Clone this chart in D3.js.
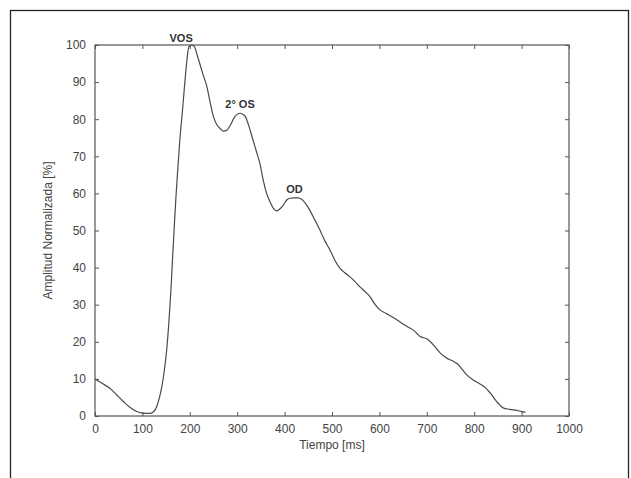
<!DOCTYPE html>
<html><head><meta charset="utf-8">
<script src="https://cdn.jsdelivr.net/npm/d3@7"></script>
<style>body{margin:0;background:#fff}svg{display:block}text{font-family:"Liberation Sans",Arial,sans-serif}</style>
</head><body>
<script>
const timeMs = [0,15,32,45,60,75,88,100,116,124,130,136,141,146,151,156,160,163,167,171,174,179,185,190,194,198,205,210,215,221,228,236,243,250,257,264,271,278,286,294,300,306,312,318,325,332,340,348,355,362,370,377,383,390,398,405,411,420,428,436,444,453,464,475,485,496,506,517,527,538,548,559,570,580,590,601,615,630,645,660,675,686,700,715,728,742,755,765,775,785,798,810,822,835,848,861,875,890,900,908];
const amplitude = [10,8.8,7.4,5.8,3.9,2.2,1.2,0.8,0.7,1.2,2.5,5,7.9,12,17.5,25.5,33.5,41,50.5,59.5,65.4,74.4,83,90.6,96,99.5,100,99.5,97.5,95,92,88.8,84.5,80.7,78.5,77.5,76.8,77,78.5,80.5,81.3,81.6,81.3,80.5,78,75,71.5,68,63.5,60,57.5,55.8,55.3,55.8,57,58.3,58.7,58.8,58.8,58.4,57.3,55.5,52.8,50,47.2,44.7,42,39.8,38.6,37.5,36.3,34.8,33.5,32.2,30.2,28.6,27.6,26.5,25.2,24,22.8,21.4,20.8,19,17,15.6,14.8,14,12.5,11,9.7,8.8,7.8,6,3.8,2.2,1.8,1.5,1.2,1];
const xTicks = [0,100,200,300,400,500,600,700,800,900,1000];
const yTicks = [0,10,20,30,40,50,60,70,80,90,100];
const annotations = [{label:"VOS", t:207, a:100}, {label:"2° OS", t:306, a:81.6}, {label:"OD", t:425, a:58.8}];
const xLabel = "Tiempo [ms]";
const yLabel = "Amplitud Normalizada [%]";

const W = 631, H = 478;
const m = {left:95, right:62, top:45, bottom:62};
const svg = d3.select("body").append("svg").attr("width", W).attr("height", H);
svg.append("rect").attr("x",10.5).attr("y",10.5).attr("width",618).attr("height",480)
  .attr("fill","none").attr("stroke","#222").attr("stroke-width",1.3);

const x = d3.scaleLinear().domain([0,1000]).range([m.left, W - m.right]);
const y = d3.scaleLinear().domain([0,100]).range([H - m.bottom, m.top]);
const axisColor = "#555";
const tickStyle = g => { g.select(".domain").remove(); g.selectAll("line").attr("stroke", axisColor);
  g.selectAll("text").attr("fill","#444").attr("font-size","12px"); };

svg.append("g").attr("transform",`translate(0,${y(0)})`)
  .call(d3.axisBottom(x).tickValues(xTicks).tickFormat(d3.format("d")).tickSizeInner(-4).tickSizeOuter(0).tickPadding(8))
  .call(tickStyle);
svg.append("g").attr("transform",`translate(0,${y(100)})`)
  .call(d3.axisTop(x).tickValues(xTicks).tickFormat("").tickSizeInner(-4).tickSizeOuter(0))
  .call(tickStyle);
svg.append("g").attr("transform",`translate(${x(0)},0)`)
  .call(d3.axisLeft(y).tickValues(yTicks).tickFormat(d3.format("d")).tickSizeInner(-4).tickSizeOuter(0).tickPadding(9))
  .call(tickStyle);
svg.append("g").attr("transform",`translate(${x(1000)},0)`)
  .call(d3.axisRight(y).tickValues(yTicks).tickFormat("").tickSizeInner(-4).tickSizeOuter(0))
  .call(tickStyle);

svg.append("rect").attr("x",x(0)).attr("y",y(100)).attr("width",x(1000)-x(0)).attr("height",y(0)-y(100))
  .attr("fill","none").attr("stroke",axisColor).attr("stroke-width",1.2);

const data = timeMs.map((t,i)=>({t, a:amplitude[i]}));
svg.append("path").datum(data)
  .attr("d", d3.line().x(d=>x(d.t)).y(d=>y(d.a)).curve(d3.curveMonotoneX))
  .attr("fill","none").attr("stroke","#4a4a4a").attr("stroke-width",1.2);

const offs = {"VOS":[-12,-3], "2° OS":[0,-5], "OD":[-2,-5]};
svg.selectAll("text.ann").data(annotations).join("text").attr("class","ann")
  .attr("x", d=>x(d.t)+offs[d.label][0]).attr("y", d=>y(d.a)+offs[d.label][1])
  .attr("text-anchor","middle").attr("font-size","11px").attr("font-weight","bold").attr("fill","#333")
  .text(d=>d.label);

svg.append("text").attr("x",(x(0)+x(1000))/2).attr("y",449).attr("text-anchor","middle")
  .attr("font-size","12px").attr("fill","#444").text(xLabel);
svg.append("text").attr("transform",`translate(52,${(y(0)+y(100))/2}) rotate(-90)`).attr("text-anchor","middle")
  .attr("font-size","12px").attr("fill","#444").text(yLabel);
</script>
</body></html>
